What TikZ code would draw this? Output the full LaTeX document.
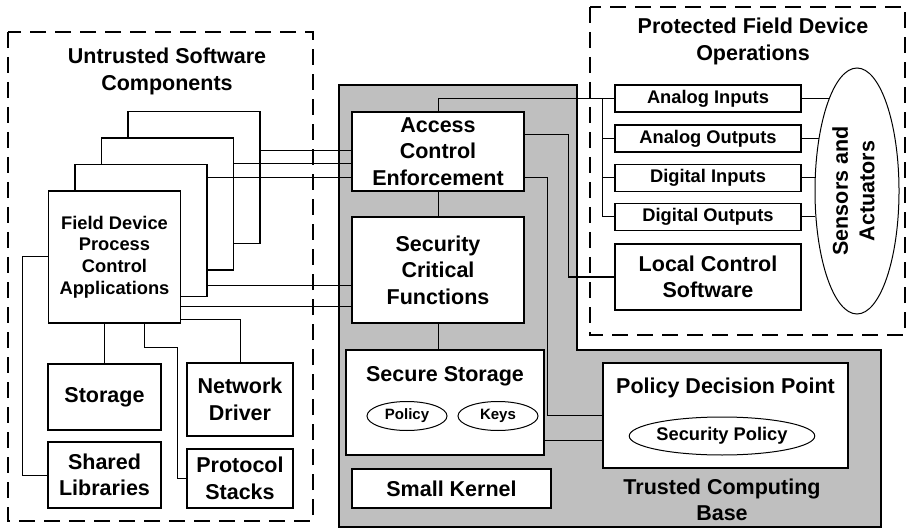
\documentclass[tikz,border=0pt]{standalone}
\usepackage{fontspec}
\setmainfont{Liberation Sans}
\usetikzlibrary{shapes.geometric}
\newcommand{\bigf}{\fontsize{21.5}{26.5}\selectfont\bfseries}
\newcommand{\midf}{\fontsize{18.3}{21.7}\selectfont\bfseries}
\newcommand{\smallf}{\fontsize{15}{18}\selectfont\bfseries}
\begin{document}
\begin{tikzpicture}[x=1pt, y=-1pt, line join=miter,
	box/.style={draw, fill=white, line width=1.2pt, align=center, inner sep=0pt},
	ell/.style={draw, ellipse, fill=white, line width=1pt, inner sep=0pt},
	zone/.style={line width=2pt, dash pattern=on 16pt off 9pt},
	wire/.style={line width=1pt}]
	\useasboundingbox (0,0) rectangle (907,529);
	% trusted computing base and the two zones
	\draw[fill=black!25, line width=1.2pt] (339,85)--(577,85)--(577,350)--(881,350)--(881,527)--(339,527)--cycle;
	\draw[zone] (8,32) rectangle (313,521);
	\draw[zone] (590,7) rectangle (905,335);
	\node[font=\bigf, align=center] (untr) at (167,71.5) {Untrusted Software\\Components};
	\node[font=\bigf, align=center] (prot) at (753,41.5) {Protected Field Device\\Operations};
	\node[font=\bigf, align=center] (tcb) at (722,500) {Trusted Computing\\Base};
	% untrusted software
	\foreach \i/\x/\y in {4/194/177.5, 3/167.5/204, 2/141/230.5}
		\node[box, minimum width=132pt, minimum height=132pt] (app\i) at (\x,\y) {};
	\node[box, minimum width=132pt, minimum height=132pt, font=\midf] (app1) at (114.5,257) {Field Device\\Process\\Control\\Applications};
	\node[box, minimum width=113pt, minimum height=66pt, font=\bigf] (stor) at (104.5,397) {Storage};
	\node[box, minimum width=113pt, minimum height=66pt, font=\bigf] (shlib) at (104.5,475) {Shared\\Libraries};
	\node[box, minimum width=106pt, minimum height=73pt, font=\bigf] (netdrv) at (240,399.5) {Network\\Driver};
	\node[box, minimum width=106pt, minimum height=59pt, font=\bigf] (proto) at (240,478.5) {Protocol\\Stacks};
	% trusted side
	\node[box, minimum width=172pt, minimum height=79pt, font=\bigf] (ace) at (438,151.5) {Access\\Control\\Enforcement};
	\node[box, minimum width=172pt, minimum height=106pt, font=\bigf] (scf) at (438,270) {Security\\Critical\\Functions};
	\node[box, minimum width=198pt, minimum height=105pt] (sstore) at (445,402.5) {};
	\node[font=\bigf] (sstoret) at (445,376) {Secure Storage};
	\node[ell, minimum width=80pt, minimum height=29pt, font=\smallf] (pol) at (407,416) {Policy};
	\node[ell, minimum width=80pt, minimum height=29pt, font=\smallf] (keys) at (498,416) {Keys};
	\node[box, minimum width=199pt, minimum height=39pt, font=\bigf] (kern) at (451.5,488.5) {Small Kernel};
	\node[box, minimum width=245pt, minimum height=105pt] (pdp) at (725.5,415.5) {};
	\node[font=\bigf] (pdpt) at (725.5,388) {Policy Decision Point};
	\node[ell, minimum width=172pt, minimum height=38pt, font=\midf] (secpol) at (722,436) {Security Policy};
	% protected operations
	\foreach \n/\t/\y in {ain/Analog Inputs/98.5, aout/Analog Outputs/138.5, din/Digital Inputs/178, dout/Digital Outputs/217}
		\node[box, minimum width=186pt, minimum height=27pt, font=\midf] (\n) at (708,\y) {\t};
	\node[box, minimum width=186pt, minimum height=66pt, font=\bigf] (lcs) at (708,277) {Local Control\\Software};
	\node[ell, minimum width=84pt, minimum height=246pt] (sa) at (857,191) {};
	\node[font=\bigf, align=center, rotate=90] (sat) at (853.5,191) {Sensors and\\Actuators};
	% connectors
	\foreach \n/\s in {app4/26.5pt, app3/40pt, app2/53pt}
		\draw[wire] ([yshift=\s]\n.east) coordinate (w) -- (w -| ace.west);
	\draw[wire] ([yshift=-55pt]app2.east) coordinate (w) -- (w -| scf.west);
	\draw[wire] ([yshift=-49.5pt]app1.east) coordinate (w) -- (w -| scf.west);
	\draw[wire] ([yshift=-62pt]app1.east) -| (netdrv.north);
	\draw[wire] (app1.west) -- ++(-25,0) |- (shlib.west);
	\draw[wire] (stor.north) -- (stor.north |- app1.south);
	\draw[wire] ([xshift=29.5pt]app1.south) |- (177,347) |- (proto.west);
	\draw[wire] (ace.south) -- (scf.north);
	\draw[wire] (scf.south) -- (scf.south |- sstore.north);
	\draw[wire] (ace.north) |- (ain.west);
	\draw[wire] ([xshift=-12pt]ain.west) |- (dout.west);
	\foreach \n in {aout,din}
		\draw[wire] (\n.west) -- ++(-12,0);
	\draw[wire] ([yshift=16.5pt]ace.east) -| ([xshift=-46pt]lcs.west) -- (lcs.west);
	\draw[wire] ([yshift=-26.5pt]ace.east) -| ([xshift=-55pt]pdp.west) -- (pdp.west);
	\draw[wire] ([yshift=-37.5pt]sstore.east) coordinate (w) -- (w -| pdp.west);
	\foreach \n/\a in {ain/107, aout/126, din/162, dout/212}
		\draw[wire] (\n.east) -- (\n.east -| sa.\a);
\end{tikzpicture}
\end{document}
